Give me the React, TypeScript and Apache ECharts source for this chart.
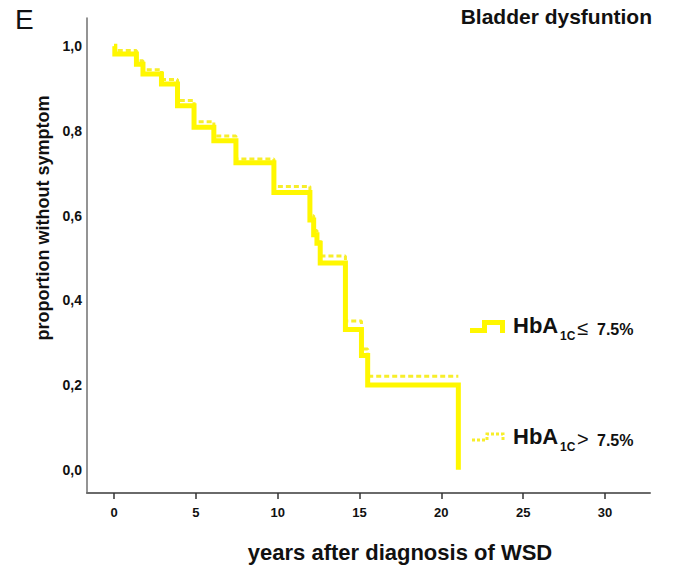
import React, { useEffect, useRef } from "react";
import * as echarts from "echarts";

// ---- data ----
const xTickValues = [0, 5, 10, 15, 20, 25, 30];
const yTickValues = [0, 0.2, 0.4, 0.6, 0.8, 1.0];

// HbA1c <= 7.5 %
const yearsLow = [0, 0.05, 1.37, 1.77, 2.9, 3.88, 4.89, 6.1, 7.45, 9.77, 11.97, 12.2, 12.4, 12.6, 14.14, 15.12, 15.5, 21.04];
const survLow = [1.0, 0.982, 0.958, 0.935, 0.911, 0.86, 0.809, 0.777, 0.725, 0.655, 0.59, 0.555, 0.535, 0.488, 0.331, 0.27, 0.2, 0.0];

// HbA1c > 7.5 %
const yearsHigh = [0, 0.05, 1.37, 1.77, 2.9, 3.88, 4.89, 6.1, 7.45, 9.77, 11.97, 12.2, 12.4, 12.6, 14.14, 15.12, 15.5, 21.04];
const survHigh = [1.0, 0.99, 0.966, 0.945, 0.922, 0.872, 0.822, 0.788, 0.734, 0.669, 0.6, 0.565, 0.545, 0.505, 0.351, 0.285, 0.221, 0.221];

const panelLetter = "E";
const titleText = "Bladder dysfuntion";
const xAxisName = "years after diagnosis of WSD";
const yAxisName = "proportion without symptom";
const legendMain = "HbA";
const legendSub = "1C";
const legendOps = ["≤", ">"];
const legendThreshold = "7.5%";

const FONT = "'Liberation Sans', Arial, Helvetica, sans-serif";
const YELLOW = "#FFF700";
const YELLOW2 = "#F7EE2A";
const TEXT = "#111111";

function legendRow(dy: number, op: string, dashed: boolean) {
  const sym = dashed
    ? {
        type: "polyline",
        shape: { points: [[472, 440], [487, 440], [487, 434], [503, 434], [503, 442]] },
        style: { stroke: YELLOW2, lineWidth: 3, fill: null, lineDash: [3, 2] },
      }
    : {
        type: "polyline",
        shape: { points: [[470, 330.5], [484.5, 330.5], [484.5, 322.5], [502.5, 322.5], [502.5, 333]] },
        style: { stroke: YELLOW, lineWidth: 5, fill: null },
      };
  return [
    sym,
    {
      type: "text",
      x: 513,
      y: 325.5 + dy,
      style: { text: legendMain, fontSize: 22, fontWeight: "bold", fontFamily: FONT, fill: TEXT, align: "left", verticalAlign: "middle" },
    },
    {
      type: "text",
      x: 560,
      y: 336 + dy,
      style: { text: legendSub, fontSize: 12, fontWeight: "bold", fontFamily: FONT, fill: TEXT, align: "left", verticalAlign: "middle" },
    },
    {
      type: "text",
      x: 577,
      y: 328 + dy,
      style: { text: op, fontSize: 20, fontWeight: "normal", fontFamily: FONT, fill: TEXT, align: "left", verticalAlign: "middle" },
    },
    {
      type: "text",
      x: 597,
      y: 329 + dy,
      style: { text: legendThreshold, fontSize: 16, fontWeight: "bold", fontFamily: FONT, fill: TEXT, align: "left", verticalAlign: "middle" },
    },
  ];
}

export default function App() {
  const ref = useRef<HTMLDivElement>(null);

  useEffect(() => {
    if (!ref.current) return;
    const chart = echarts.init(ref.current, null, { renderer: "svg" });
    const option: any = {
      animation: false,
      backgroundColor: "#ffffff",
      grid: { left: 87, right: 23, top: 18, bottom: 80, containLabel: false },
      xAxis: {
        type: "value",
        min: -1.65,
        max: 32.75,
        axisLine: { onZero: false, lineStyle: { color: "#6a6a6a", width: 2 } },
        axisTick: { show: true, length: 6, customValues: xTickValues, lineStyle: { color: "#333", width: 1.5 } },
        axisLabel: {
          customValues: xTickValues,
          margin: 13,
          fontSize: 13,
          fontWeight: "bold",
          fontFamily: FONT,
          color: TEXT,
        },
        splitLine: { show: false },
      },
      yAxis: {
        type: "value",
        min: -0.055,
        max: 1.067,
        axisLine: { show: true, onZero: false, lineStyle: { color: "#707070", width: 1.5 } },
        axisTick: { show: false },
        axisLabel: {
          customValues: yTickValues,
          margin: 5,
          fontSize: 14,
          fontWeight: "bold",
          fontFamily: FONT,
          color: TEXT,
          formatter: (v: number) => v.toFixed(1).replace(".", ","),
        },
        splitLine: { show: false },
      },
      series: [
        {
          name: "HbA1c > 7.5%",
          type: "line",
          step: "end",
          showSymbol: false,
          symbol: "none",
          data: yearsHigh.map((t, i) => [t, survHigh[i]]),
          lineStyle: { color: YELLOW2, width: 3, type: [5, 3] },
          z: 2,
        },
        {
          name: "HbA1c ≤ 7.5%",
          type: "line",
          step: "end",
          showSymbol: false,
          symbol: "none",
          data: yearsLow.map((t, i) => [t, survLow[i]]),
          lineStyle: { color: YELLOW, width: 5, cap: "butt", join: "miter" },
          z: 3,
        },
      ],
      graphic: [
        {
          type: "text",
          x: 15,
          y: 19,
          style: { text: panelLetter, fontSize: 28, fontWeight: "normal", fontFamily: FONT, fill: TEXT, align: "left", verticalAlign: "middle" },
        },
        {
          type: "text",
          x: 652,
          y: 16,
          style: { text: titleText, fontSize: 21, fontWeight: "bold", fontFamily: FONT, fill: TEXT, align: "right", verticalAlign: "middle" },
        },
        {
          type: "text",
          x: 400,
          y: 552,
          style: { text: xAxisName, fontSize: 22, fontWeight: "bold", fontFamily: FONT, fill: TEXT, align: "center", verticalAlign: "middle" },
        },
        {
          type: "text",
          x: 43,
          y: 218,
          rotation: Math.PI / 2,
          style: { text: yAxisName, fontSize: 18, fontWeight: "bold", fontFamily: FONT, fill: TEXT, align: "center", verticalAlign: "middle" },
        },
        ...legendRow(0, legendOps[0], false),
        ...legendRow(111, legendOps[1], true),
      ],
    };
    chart.setOption(option);
    return () => chart.dispose();
  }, []);

  return (
    <div
      ref={ref}
      style={{ position: "fixed", left: 0, top: 0, width: 673, height: 573, background: "#fff" }}
    />
  );
}
